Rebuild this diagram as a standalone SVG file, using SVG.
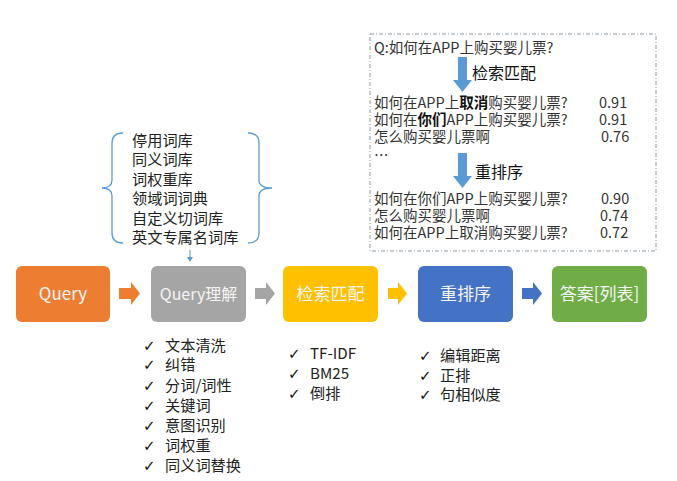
<svg xmlns="http://www.w3.org/2000/svg" width="677" height="481" viewBox="0 0 677 481">
<style>
text{font-family:"Noto Sans CJK SC","Noto Sans",sans-serif}
.bt{font-size:17px;fill:#f4f4f4;text-anchor:middle}
.lt{font-size:15.2px;fill:#222}
.qt{font-size:14.5px;fill:#333}
.hd{font-size:16px;fill:#111}
.ck{font-size:15px;fill:#111;font-family:"DejaVu Sans",sans-serif}
.br{fill:none;stroke:#5b9bd5;stroke-width:1.3}
</style>
<rect width="677" height="481" fill="#ffffff"/>
<g id="result-box">
<rect x="370" y="34" width="286" height="217" fill="none" stroke="#8c9ba6" stroke-width="1" stroke-dasharray="4,2,1,2"/>
<text class="qt" x="374" y="53">Q:如何在APP上购买婴儿票?</text>
<polygon points="458,57 467,57 467,80 472,80 462.5,92 453,80 458,80" fill="#5b9bd5"/>
<text class="hd" x="472" y="79">检索匹配</text>
<text class="qt" x="374" y="108">如何在APP上<tspan font-weight="bold" fill="#111">取消</tspan>购买婴儿票?</text>
<text class="qt" x="599" y="108">0.91</text>
<text class="qt" x="374" y="125">如何在<tspan font-weight="bold" fill="#111">你们</tspan>APP上购买婴儿票?</text>
<text class="qt" x="599" y="125">0.91</text>
<text class="qt" x="374" y="142">怎么购买婴儿票啊</text>
<text class="qt" x="601" y="142">0.76</text>
<text class="qt" x="374" y="161">…</text>
<polygon points="458,153 467,153 467,176 472,176 462.5,188 453,176 458,176" fill="#5b9bd5"/>
<text class="hd" x="475" y="178">重排序</text>
<text class="qt" x="374" y="204">如何在你们APP上购买婴儿票?</text>
<text class="qt" x="601" y="204">0.90</text>
<text class="qt" x="374" y="221">怎么购买婴儿票啊</text>
<text class="qt" x="600" y="221">0.74</text>
<text class="qt" x="374" y="238">如何在APP上取消购买婴儿票?</text>
<text class="qt" x="600" y="238">0.72</text>
</g>
<g id="dictionaries">
<path class="br" d="M123,133 Q112,133 112,143 L112,180 Q112,188 102,188 Q112,188 112,196 L112,233 Q112,243 123,243"/>
<path class="br" d="M248,133 Q259,133 259,143 L259,180 Q259,188 272,188 Q259,188 259,196 L259,233 Q259,243 248,243"/>
<text class="lt" x="132" y="146">停用词库</text>
<text class="lt" x="132" y="165">同义词库</text>
<text class="lt" x="132" y="185">词权重库</text>
<text class="lt" x="132" y="204">领域词词典</text>
<text class="lt" x="132" y="224">自定义切词库</text>
<text class="lt" x="132" y="243">英文专属名词库</text>
</g>
<g id="connectors">
<line x1="190" y1="250" x2="190" y2="258" stroke="#5b9bd5" stroke-width="1"/>
<polygon points="187,257 193,257 190,262" fill="#5b9bd5"/>
<polygon points="119,288 131,288 131,282 140,293.5 131,305 131,299 119,299" fill="#ed7d31"/>
<polygon points="255,288 266,288 266,282 275,293.5 266,305 266,299 255,299" fill="#a5a5a5"/>
<polygon points="388,288 398,288 398,282 407,293.5 398,305 398,299 388,299" fill="#ffc000"/>
<polygon points="522,288 533,288 533,282 542,293.5 533,305 533,299 522,299" fill="#4472c4"/>
</g>
<g id="query">
<rect x="16" y="266" width="94" height="56" rx="6" fill="#ed7d31"/>
<text class="bt" x="63" y="300">Query</text>
</g>
<g id="query-understanding">
<rect x="151" y="266" width="95" height="56" rx="6" fill="#a5a5a5"/>
<text class="bt" x="198.5" y="300" style="font-size:16px">Query理解</text>
</g>
<g id="retrieval">
<rect x="283" y="266" width="95" height="56" rx="6" fill="#ffc000"/>
<text class="bt" x="330.5" y="300">检索匹配</text>
</g>
<g id="rerank">
<rect x="418" y="266" width="95" height="56" rx="6" fill="#4472c4"/>
<text class="bt" x="465.5" y="300">重排序</text>
</g>
<g id="answer">
<rect x="552" y="266" width="95" height="56" rx="6" fill="#70ad47"/>
<text class="bt" x="599.5" y="300">答案[列表]</text>
</g>
<g id="list-understanding">
<text class="ck" x="143" y="351">✓</text><text class="lt" x="165" y="351">文本清洗</text>
<text class="ck" x="143" y="370">✓</text><text class="lt" x="165" y="370">纠错</text>
<text class="ck" x="143" y="391">✓</text><text class="lt" x="165" y="391">分词/词性</text>
<text class="ck" x="143" y="411">✓</text><text class="lt" x="165" y="411">关键词</text>
<text class="ck" x="143" y="431">✓</text><text class="lt" x="165" y="431">意图识别</text>
<text class="ck" x="143" y="451">✓</text><text class="lt" x="165" y="451">词权重</text>
<text class="ck" x="143" y="471">✓</text><text class="lt" x="165" y="471">同义词替换</text>
</g>
<g id="list-retrieval">
<text class="ck" x="288" y="359">✓</text><text class="lt" x="310" y="359">TF-IDF</text>
<text class="ck" x="288" y="379">✓</text><text class="lt" x="310" y="379">BM25</text>
<text class="ck" x="288" y="399">✓</text><text class="lt" x="310" y="399">倒排</text>
</g>
<g id="list-rerank">
<text class="ck" x="419" y="361">✓</text><text class="lt" x="440" y="361">编辑距离</text>
<text class="ck" x="419" y="381">✓</text><text class="lt" x="440" y="381">正排</text>
<text class="ck" x="419" y="400">✓</text><text class="lt" x="440" y="400">句相似度</text>
</g>
</svg>
